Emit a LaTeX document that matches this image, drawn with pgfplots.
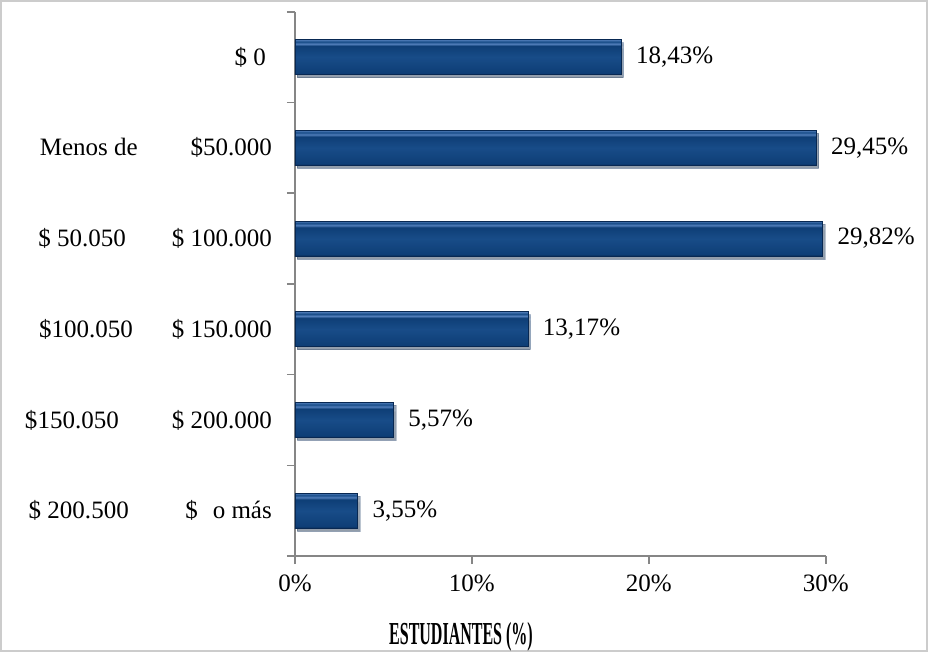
\documentclass[border=0pt]{standalone}
\usepackage{graphicx}
\usepackage{pgfplots}
\pgfplotsset{compat=1.18}
\usetikzlibrary{shadows}
\usepackage{fontspec}
\setmainfont{Liberation Serif}
\definecolor{bdark}{RGB}{8,40,82}
\definecolor{bmain}{RGB}{14,62,118}
\definecolor{bmid}{RGB}{24,76,136}
\definecolor{blight}{RGB}{80,125,185}
\definecolor{axgray}{RGB}{134,134,134}
\pgfdeclareverticalshading{barshade}{100bp}{color(0bp)=(bdark); color(25bp)=(bdark); color(27.5bp)=(bmain); color(50bp)=(bmid); color(66bp)=(bmain); color(69bp)=(blight); color(72bp)=(bmid); color(75bp)=(blight); color(100bp)=(blight)}
\newcommand\lab[3]{#3\makebox[0pt][r]{#1\hspace*{#2}}}
\newcommand\fs{\fontsize{12.5}{15}\selectfont}
\pgfplotstableread{
x y lab
18.43 0 18,43
29.45 1 29,45
29.82 2 29,82
13.17 3 13,17
5.57 4 5,57
3.55 5 3,55
}\bars
\begin{document}
\begin{tikzpicture}[x=1pt,y=1pt]
\draw[draw=gray!40, line width=0.8pt] (0.5,0.5) rectangle (463.5,325.5);
\begin{axis}[
 at={(147.5pt,48pt)}, anchor=south west,
 scale only axis, width=265.35pt, height=272pt,
 xmin=0, xmax=30, ymin=-0.5, ymax=5.5, y dir=reverse,
 axis lines=left, axis line style={-, draw=axgray, line width=0.8pt},
 xtick={0,10,20,30}, xticklabels={0\%,10\%,20\%,30\%},
 ytick={-0.5,0.5,1.5,2.5,3.5,4.5,5.5}, yticklabels={},
 extra y ticks={0,1,2,3,4,5},
 extra y tick labels={
   {\lab{}{0pt}{\$ 0\hspace*{3pt}}},
   {\lab{Menos de}{67pt}{\$50.000}},
   {\lab{\$ 50.050}{73pt}{\$ 100.000}},
   {\lab{\$100.050}{69.5pt}{\$ 150.000}},
   {\lab{\$150.050}{76.5pt}{\$ 200.000}},
   {\lab{\$ 200.500}{71.5pt}{\$\hspace{0.6em}o más}}},
 extra y tick style={tick style={draw=none}, yticklabel style={xshift=-4pt}},
 tick align=outside, major tick length=4pt,
 tick style={draw=axgray, line width=0.8pt},
 ticklabel style={font=\fs},
 xticklabel style={yshift=-2pt},
 clip=false,
 xbar, bar width=17.5pt, bar shift=0pt,
 nodes near coords={\pgfplotspointmeta\%}, point meta=explicit symbolic,
 nodes near coords style={anchor=west, xshift=4pt, font=\fs, text=black},
 barsty/.style={draw=bdark, line width=0.3pt, shading=barshade,
   drop shadow={shadow xshift=1.2pt, shadow yshift=-1.5pt, opacity=0.25, fill=black}},
]
\addplot[barsty] table[x=x, y=y, meta=lab, skip coords between index={1}{6}] {\bars};
\addplot[barsty] table[x=x, y=y, meta=lab, skip coords between index={0}{1}, skip coords between index={2}{6}] {\bars};
\addplot[barsty] table[x=x, y=y, meta=lab, skip coords between index={0}{2}, skip coords between index={3}{6}] {\bars};
\addplot[barsty] table[x=x, y=y, meta=lab, skip coords between index={0}{3}, skip coords between index={4}{6}] {\bars};
\addplot[barsty] table[x=x, y=y, meta=lab, skip coords between index={0}{4}, skip coords between index={5}{6}] {\bars};
\addplot[barsty] table[x=x, y=y, meta=lab, skip coords between index={0}{5}] {\bars};
\end{axis}
\node[font=\fontsize{16}{18}\selectfont\bfseries] at (230.5,7.5) {\scalebox{0.5}[1]{ESTUDIANTES (\%)}};
\end{tikzpicture}
\end{document}
